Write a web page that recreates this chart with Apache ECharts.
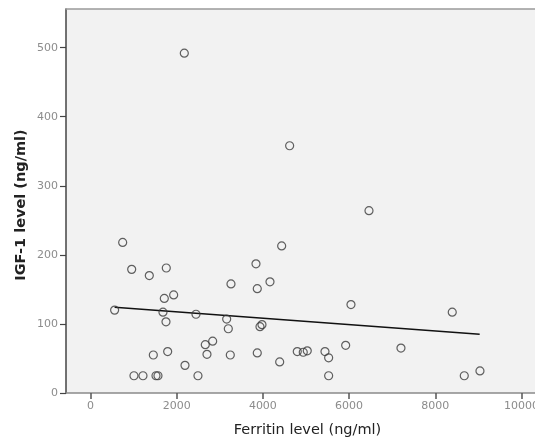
<!DOCTYPE html>
<html>
<head>
<meta charset="utf-8">
<script src="https://cdn.jsdelivr.net/npm/echarts@6/dist/echarts.min.js"></script>
<style>
html,body{margin:0;padding:0;background:#fff;}
#chart{width:535px;height:438px;}
</style>
</head>
<body>
<div id="chart"></div>
<script>
// Ferritin (ng/ml) values of each patient
const ferritin = [747, 956, 1365, 1759, 1713, 1930, 560, 1682, 1752, 2448,
  3260, 3840, 3870, 4165, 4436, 3160, 3198, 3933, 3979, 1458,
  1791, 2664, 2835, 2703, 3244, 3870, 2193, 1009, 1218, 1520,
  1566, 2494, 4390, 4798, 4937, 5030, 6462, 6044, 8394, 5921,
  7204, 5441, 5526, 5526, 8673, 9037, 2177, 4621];
// IGF-1 (ng/ml) values of each patient
const igf1 = [218, 179, 170, 181, 137, 142, 120, 117, 103, 114,
  158, 187, 151, 161, 213, 107, 93, 96, 99, 55,
  60, 70, 75, 56, 55, 58, 40, 25, 25, 25,
  25, 25, 45, 60, 59, 61, 264, 128, 117, 69,
  65, 60, 51, 25, 25, 32, 492, 358];
// Fit line end points
const fitX = [560, 9030];
const fitY = [124, 85];
// Tick labels
const xTicks = [0, 2000, 4000, 6000, 8000, 10000];
const yTicks = [0, 100, 200, 300, 400, 500];
const xTitle = 'Ferritin level (ng/ml)';
const yTitle = 'IGF-1 level (ng/ml)';

const points = ferritin.map((f, i) => [f, igf1[i]]);
const fitLine = fitX.map((x, i) => [x, fitY[i]]);

const chart = echarts.init(document.getElementById('chart'), null, {renderer: 'canvas'});
chart.setOption({
  animation: false,
  backgroundColor: '#ffffff',
  grid: {
    left: 66, top: 9, right: 0, bottom: 45,
    outerBoundsMode: 'none', containLabel: false,
    show: true, backgroundColor: '#f2f2f2', borderWidth: 0
  },
  xAxis: [{
    type: 'value', min: -568, max: 10314,
    splitLine: {show: false},
    axisLine: {show: true, onZero: false, lineStyle: {color: '#8a8a8a', width: 1.5}},
    axisTick: {show: true, length: 6, customValues: xTicks, lineStyle: {color: '#555', width: 1.5}},
    axisLabel: {customValues: xTicks, color: '#8c8c8c', fontSize: 11, fontFamily: 'DejaVu Sans', margin: 8,
      hideOverlap: false, formatter: v => String(v)}
  }, {
    type: 'value', position: 'top', min: -568, max: 10314,
    splitLine: {show: false},
    axisLine: {show: true, onZero: false, lineStyle: {color: '#9a9a9a', width: 1.5}},
    axisTick: {show: false}, axisLabel: {show: false}
  }],
  yAxis: {
    type: 'value', min: 0, max: 556,
    splitLine: {show: false},
    axisLine: {show: true, onZero: false, lineStyle: {color: '#444', width: 1.5}},
    axisTick: {show: true, length: 6, customValues: yTicks, lineStyle: {color: '#444', width: 1.2}},
    axisLabel: {customValues: yTicks, color: '#8c8c8c', fontSize: 11, fontFamily: 'DejaVu Sans', margin: 8,
      formatter: v => String(v)}
  },
  graphic: [
    {type: 'text', x: 307.5, y: 430, style: {text: xTitle, fill: '#222', font: '14.5px "DejaVu Sans"', textAlign: 'center', textVerticalAlign: 'middle'}},
    {type: 'text', x: 21, y: 205, rotation: Math.PI / 2, style: {text: yTitle, fill: '#222', font: 'bold 14.5px "DejaVu Sans"', textAlign: 'center', textVerticalAlign: 'middle'}}
  ],
  series: [
    {
      type: 'line', data: fitLine, symbol: 'none', silent: true,
      lineStyle: {color: '#111', width: 1.5}, z: 3
    },
    {
      type: 'scatter', data: points, symbol: 'circle', symbolSize: 8,
      itemStyle: {color: 'rgba(0,0,0,0)', borderColor: '#3a3a3a', borderWidth: 1.2}, z: 4
    }
  ]
});
</script>
</body>
</html>
